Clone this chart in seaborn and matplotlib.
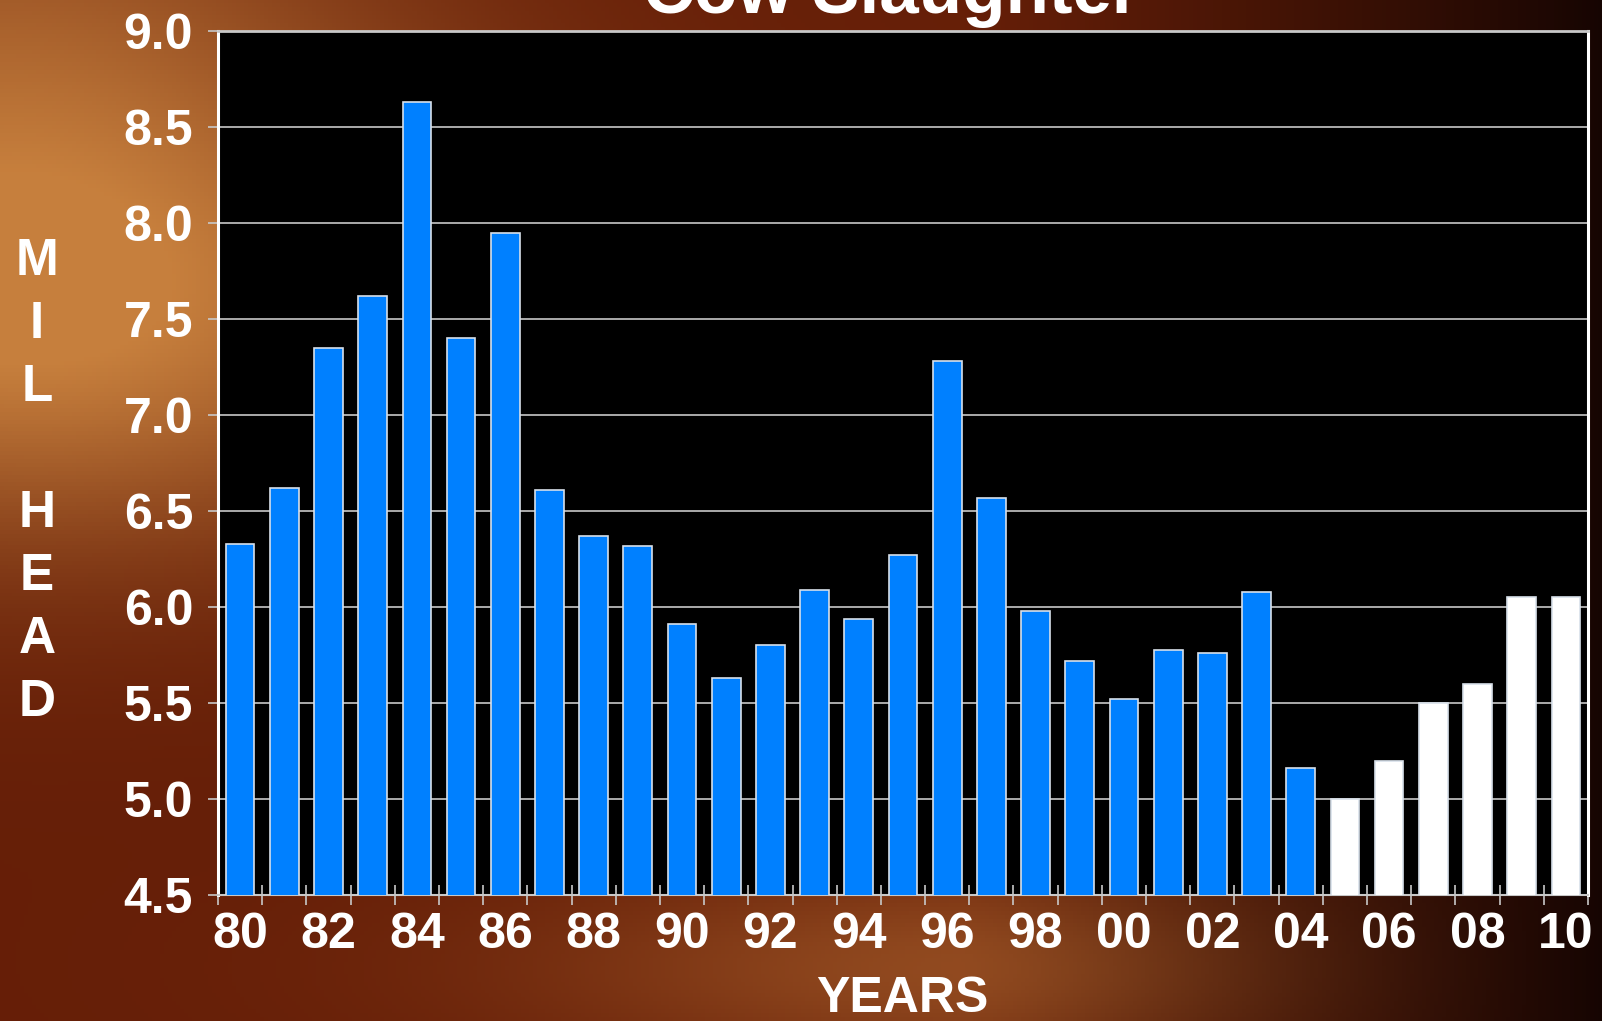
import numpy as np
import pandas as pd
import matplotlib
matplotlib.use("Agg")
import matplotlib.pyplot as plt
import seaborn as sns

# ---- data ----
years = [1980, 1981, 1982, 1983, 1984, 1985, 1986, 1987, 1988, 1989,
         1990, 1991, 1992, 1993, 1994, 1995, 1996, 1997, 1998, 1999,
         2000, 2001, 2002, 2003, 2004, 2005, 2006, 2007, 2008, 2009, 2010]
year_labels = ["80", "81", "82", "83", "84", "85", "86", "87", "88", "89",
               "90", "91", "92", "93", "94", "95", "96", "97", "98", "99",
               "00", "01", "02", "03", "04", "05", "06", "07", "08", "09", "10"]
cow_slaughter = [6.33, 6.62, 7.35, 7.62, 8.63, 7.40, 7.95, 6.61, 6.37, 6.32,
                 5.91, 5.63, 5.80, 6.09, 5.94, 6.27, 7.28, 6.57, 5.98, 5.72,
                 5.52, 5.775, 5.76, 6.08, 5.16, 5.00, 5.20, 5.50, 5.60, 6.05, 6.05]
series_kind = ["actual"] * 25 + ["projected"] * 6
y_ticks = [4.5, 5.0, 5.5, 6.0, 6.5, 7.0, 7.5, 8.0, 8.5, 9.0]

df = pd.DataFrame({"year": year_labels, "value": cow_slaughter, "kind": series_kind})

sns.set_theme(style="white")
plt.rcParams["font.family"] = ["Liberation Sans", "DejaVu Sans"]
plt.rcParams["font.weight"] = "bold"

W, H = 1602, 1021
fig = plt.figure(figsize=(W / 100, H / 100), dpi=100)

# ---- background gradient (decoration) ----
bg = fig.add_axes([0, 0, 1, 1], zorder=-10)
gx, gy = np.meshgrid(np.linspace(0, 1, 400), np.linspace(0, 1, 260))
warm = np.array([0.78, 0.50, 0.24])
mid = np.array([0.40, 0.12, 0.03])
dark = np.array([0.09, 0.02, 0.01])
g1 = 0.9 * np.exp(-(((gx - 0.02) / 0.30) ** 2 + ((gy - 0.32) / 0.22) ** 2))
g0 = 0.55 * np.exp(-(((gx - 0.0) / 0.25) ** 2 + ((gy - 0.05) / 0.25) ** 2))
g2 = 0.45 * np.exp(-(((gx - 0.62) / 0.28) ** 2 + ((gy - 0.95) / 0.10) ** 2))
g = np.clip(g0 + g1 + g2, 0, 1)
d = np.clip((gx - 0.60) / 0.40, 0, 1) ** 1.2
img = mid * (1 - g[..., None]) + warm * g[..., None]
img = img * (1 - d[..., None]) + dark * d[..., None]
bg.imshow(img, aspect="auto", extent=[0, 1, 0, 1], origin="upper")
bg.set_axis_off()

# ---- main axes ----
ax = fig.add_axes([218 / W, 1 - 895 / H, (1588 - 218) / W, (895 - 31) / H])
ax.set_facecolor("black")
ax.set_axisbelow(True)

sns.barplot(data=df, x="year", y="value", hue="kind",
            palette={"actual": "#0080ff", "projected": "#ffffff"},
            saturation=1, dodge=False, width=0.65, edgecolor="#d8e0ea",
            linewidth=1.2, legend=False, ax=ax, zorder=3)

ax.set_ylim(4.5, 9.0)
ax.set_xlim(-0.5, len(years) - 0.5)
ax.set_yticks(y_ticks)
ax.set_yticklabels([f"{v:.1f}" for v in y_ticks])
ax.yaxis.grid(True, color="#c8c8c8", linewidth=1.2, zorder=0)
ax.xaxis.grid(False)

major_pos = list(range(0, len(years), 2))
ax.set_xticks(major_pos)
ax.set_xticklabels([year_labels[i] for i in major_pos])
ax.set_xticks([i - 0.5 for i in range(len(years) + 1)], minor=True)

ax.tick_params(axis="x", which="major", length=0, pad=12, labelsize=36,
               labelcolor="white")
ax.tick_params(axis="x", which="minor", direction="inout", length=14,
               width=1.2, color="#c8c8c8", bottom=True)
ax.tick_params(axis="y", which="major", direction="out", length=7, width=1.2,
               color="#c8c8c8", pad=11, labelsize=36, labelcolor="white",
               left=True)

for lab in ax.get_xticklabels() + ax.get_yticklabels():
    lab.set_fontweight("bold")

for side in ["left", "right"]:
    ax.spines[side].set_visible(True)
    ax.spines[side].set_color("white")
    ax.spines[side].set_linewidth(2.2)
ax.spines["top"].set_color("#c8c8c8")
ax.spines["top"].set_linewidth(2)
ax.spines["bottom"].set_color("#c8c8c8")
ax.spines["bottom"].set_linewidth(1.5)

ax.set_xlabel("YEARS", fontsize=36, fontweight="bold", color="white")
ax.xaxis.set_label_coords((902 - 218) / 1370, (895 - 976) / 864)
ax.xaxis.label.set_va("top")

ax.set_ylabel("M\nI\nL\n\nH\nE\nA\nD", rotation=0, fontsize=37,
              fontweight="bold", color="white", linespacing=1.37,
              ha="center", va="center", multialignment="center")
ax.yaxis.set_label_coords((37 - 218) / 1370, (895 - 482) / 864)

fig.text(891 / W, 1 - 13 / H, "Cow Slaughter", fontsize=51,
         fontweight="bold", color="white", ha="center", va="baseline")

fig.savefig("out.png", dpi=100)
